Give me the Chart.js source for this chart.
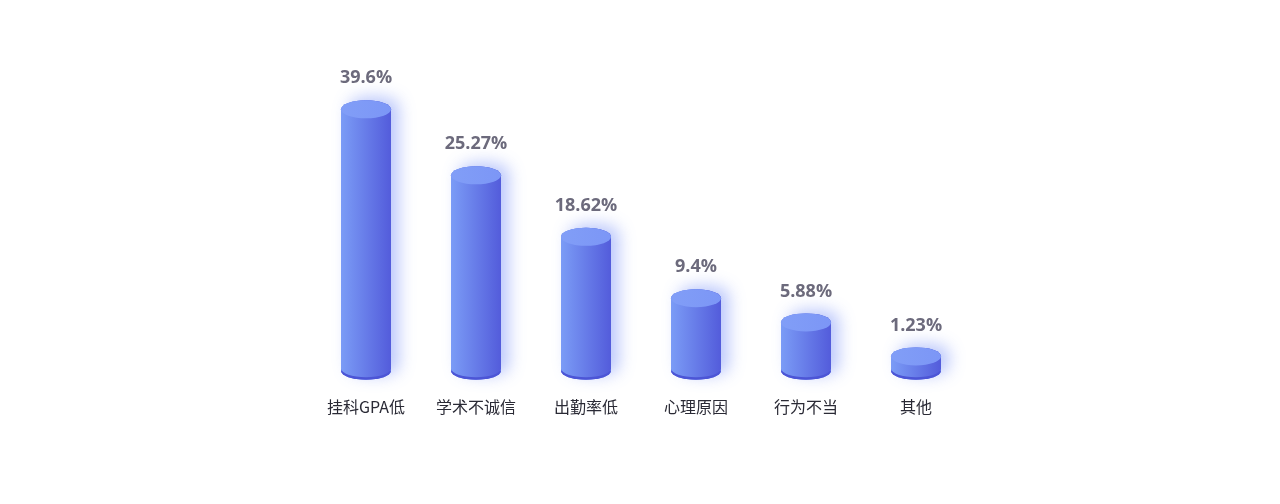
<!DOCTYPE html>
<html><head><meta charset="utf-8">
<script src="https://cdn.jsdelivr.net/npm/chart.js@4.4.1/dist/chart.umd.min.js"></script>
<style>html,body{margin:0;padding:0;background:#fff}#wrap{width:1280px;height:504px;position:relative}</style>
</head><body><div id="wrap"><canvas id="c"></canvas></div>
<script>
const categories = ['挂科GPA低','学术不诚信','出勤率低','心理原因','行为不当','其他'];
const percentValues = [39.6, 25.27, 18.62, 9.4, 5.88, 1.23];
// bar heights as drawn in the picture (not proportional to the percentage labels)
const barValues = [40.0, 29.9, 20.5, 11.1, 7.4, 2.2];

const cylinder = {
  id: 'cyl',
  afterDatasetsDraw(chart) {
    const ctx = chart.ctx;
    const meta = chart.getDatasetMeta(0);
    meta.data.forEach((bar, i) => {
      const p = bar.getProps(['x','y','base','width'], true);
      const x = p.x, y = p.y, base = p.base, w = p.width;
      const l = x - w/2, r = x + w/2, rx = w/2, ry = 9;
      const shape = () => {
        ctx.beginPath();
        ctx.ellipse(x, y, rx, ry, 0, Math.PI, 0);
        ctx.lineTo(r, base);
        ctx.ellipse(x, base, rx, ry, 0, 0, Math.PI);
        ctx.closePath();
      };
      // glow
      ctx.save();
      ctx.shadowColor = 'rgba(95,125,245,0.42)';
      ctx.shadowBlur = 16; ctx.shadowOffsetX = 8; ctx.shadowOffsetY = -4;
      ctx.fillStyle = '#6a80ea';
      shape(); ctx.fill();
      ctx.restore();
      // dark bottom rim
      ctx.save();
      ctx.fillStyle = '#4c55d6';
      ctx.beginPath(); ctx.ellipse(x, base, rx, ry, 0, 0, Math.PI); ctx.closePath(); ctx.fill();
      // body
      const g = ctx.createLinearGradient(l, 0, r, 0);
      g.addColorStop(0, '#7b9cf6');
      g.addColorStop(1, '#535cdb');
      ctx.fillStyle = g;
      ctx.beginPath();
      ctx.ellipse(x, y, rx, ry, 0, Math.PI, 0);
      ctx.lineTo(r, base - 2.5);
      ctx.ellipse(x, base - 2.5, rx, ry, 0, 0, Math.PI);
      ctx.closePath(); ctx.fill();
      // top ellipse
      const tg = ctx.createLinearGradient(l, 0, r, 0);
      tg.addColorStop(0, '#819ef7');
      tg.addColorStop(1, '#7c96f6');
      ctx.fillStyle = tg;
      ctx.beginPath(); ctx.ellipse(x, y, rx, ry, 0, 0, Math.PI*2); ctx.fill();
      ctx.restore();
      // value label
      ctx.save();
      ctx.font = 'bold 18px "Open Sans", "Noto Sans", sans-serif';
      ctx.fillStyle = '#6c6a7c';
      ctx.textAlign = 'center'; ctx.textBaseline = 'middle';
      ctx.fillText(percentValues[i] + '%', x, y - 31);
      ctx.restore();
    });
  }
};

new Chart(document.getElementById('c'), {
  type: 'bar',
  data: {
    labels: categories,
    datasets: [{
      data: barValues,
      backgroundColor: 'rgba(0,0,0,0)',
      borderWidth: 0,
      barThickness: 50
    }]
  },
  options: {
    responsive: true,
    maintainAspectRatio: false,
    animation: false,
    layout: { padding: { left: 311, right: 309, top: 44, bottom: 60 } },
    plugins: { legend: { display: false }, tooltip: { enabled: false } },
    scales: {
      x: {
        grid: { display: false, drawTicks: false },
        border: { display: false },
        ticks: { color: '#2a2a35', padding: 27, font: { size: 16, family: '"Noto Sans CJK SC", sans-serif' } }
      },
      y: { display: false, min: 0, max: 50 }
    }
  },
  plugins: [cylinder]
});
</script>
</body></html>
